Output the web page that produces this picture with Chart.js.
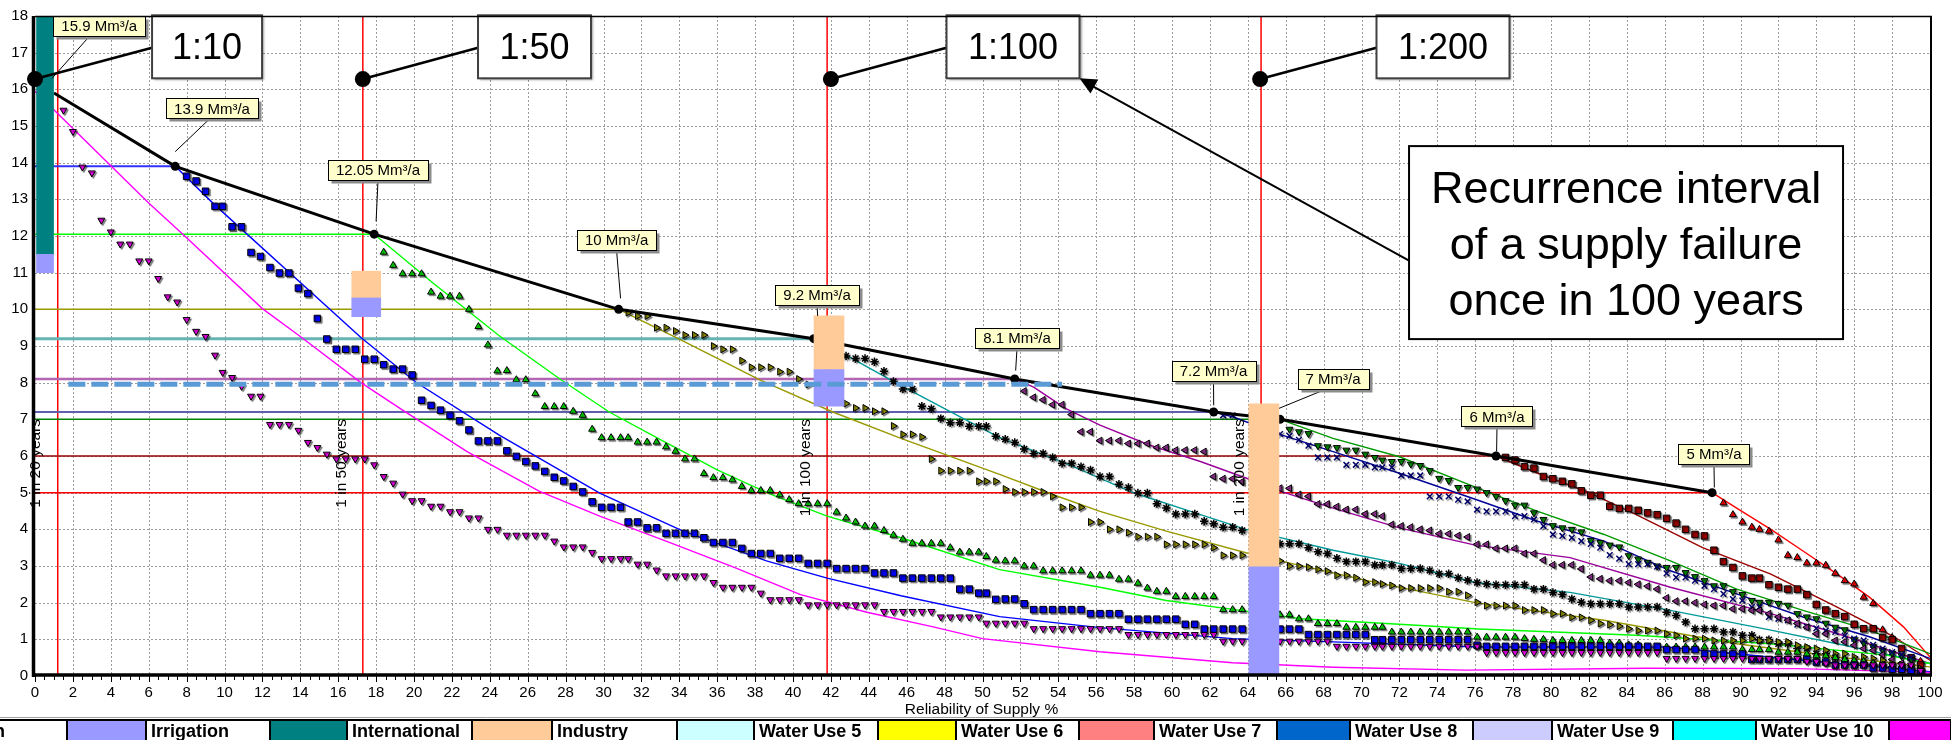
<!DOCTYPE html>
<html>
<head>
<meta charset="utf-8">
<title>Reliability of Supply</title>
<script src="https://cdn.jsdelivr.net/npm/chart.js@4.4.1/dist/chart.umd.min.js"></script>
<style>
  html, body { margin: 0; padding: 0; background: #fff; overflow: hidden; }
  canvas { display: block; }
</style>
</head>
<body>
<canvas id="supplyChart" width="1951" height="740"></canvas>
<script>
// ---------- data ----------

// envelope: firm yield at each assurance point (Mm³/a) against reliability %
const envelopeX = [1.0, 7.4, 17.9, 30.8, 41.1, 51.7, 62.2, 65.7, 77.1, 88.5];
const envelopeY = [15.9, 13.9, 12.05, 10, 9.2, 8.1, 7.2, 7, 6, 5];

// return period lines (reliability %) and their notes
const returnPeriodX = [1.2, 17.3, 41.8, 64.7];
const returnPeriodNotes = ['1 in 20 years', '1 in 50 years', '1 in 100 years', '1 in 200 years'];
const ratioNames = ['1:10', '1:50', '1:100', '1:200'];

// target draft (dashed line)
const targetDraft = 7.96;
const targetSpan = [1.76, 54.2];

// stacked requirement columns: centre % and [from, to] Mm³/a
const columnX = [0.53, 17.48, 41.9, 64.85];
const irrigationCols = [[11.0, 11.5], [9.8, 10.31], [7.36, 8.36], [0, 2.98]];
const internationalCols = [[11.5, 18], null, null, null];
const industryCols = [null, [10.31, 11.04], [8.36, 9.82], [2.98, 7.42]];

// legend row
const legendNames = ['Irrigation', 'International', 'Industry', 'Water Use 5', 'Water Use 6', 'Water Use 7', 'Water Use 8', 'Water Use 9', 'Water Use 10'];
const legendColors = ['#9999ff', '#008080', '#ffcc99', '#ccffff', '#ffff00', '#ff8080', '#0066cc', '#ccccff', '#00ffff', '#ff00ff'];

// simulated yields per draft level [reliability %, Mm³/a]
const markers159 = [[1.5,15.43],[2,14.85],[2.5,13.88],[3,13.72],[3.5,12.43],[4,12.11],[4.5,11.78],[5,11.78],[5.5,11.32],[6,11.32],[6.5,10.84],[7,10.34],[7.5,10.2],[8,9.72],[8.5,9.4],[9,9.26],[9.5,8.75],[9.9,8.28],[10.4,8.14],[10.9,7.9],[11.4,7.63],[11.9,7.63],[12.4,6.86],[12.9,6.86],[13.4,6.86],[13.9,6.7],[14.4,6.37],[14.9,6.23],[15.4,6.05],[15.9,5.92],[16.4,5.92],[16.9,5.92],[17.4,5.92],[17.9,5.76],[18.4,5.44],[18.9,5.26],[19.4,4.96],[19.9,4.78],[20.4,4.78],[20.9,4.63],[21.4,4.63],[21.9,4.48],[22.4,4.48],[22.9,4.31],[23.4,4.31],[23.9,4],[24.4,4],[24.9,3.84],[25.4,3.84],[25.9,3.84],[26.4,3.84],[26.9,3.84],[27.4,3.68],[27.9,3.52],[28.4,3.52],[28.9,3.52],[29.4,3.37],[29.9,3.2],[30.4,3.2],[30.9,3.2],[31.3,3.2],[31.8,3.05],[32.3,3.05],[32.8,2.89],[33.3,2.73],[33.8,2.73],[34.3,2.73],[34.8,2.73],[35.3,2.73],[35.8,2.55],[36.3,2.42],[36.8,2.42],[37.3,2.42],[37.8,2.42],[38.3,2.26],[38.8,2.08],[39.3,2.08],[39.8,2.08],[40.3,2.08],[40.8,1.94],[41.3,1.94],[41.8,1.94],[42.3,1.94],[42.8,1.94],[43.3,1.94],[43.8,1.94],[44.3,1.94],[44.8,1.76],[45.3,1.76],[45.8,1.76],[46.3,1.76],[46.8,1.76],[47.3,1.76],[47.8,1.61],[48.3,1.61],[48.8,1.61],[49.3,1.61],[49.8,1.61],[50.2,1.44],[50.7,1.44],[51.2,1.44],[51.7,1.44],[52.2,1.44],[52.7,1.29],[53.2,1.29],[53.7,1.29],[54.2,1.29],[54.7,1.29],[55.2,1.29],[55.7,1.29],[56.2,1.29],[56.7,1.29],[57.2,1.29],[57.7,1.13],[58.2,1.13],[58.7,1.13],[59.2,1.13],[59.7,1.13],[60.2,1.13],[60.7,1.13],[61.2,1.13],[61.7,1.13],[62.2,1.13],[62.7,0.95],[63.2,0.95],[63.7,0.95],[65.7,0.95],[66.2,0.95],[66.7,0.95],[67.2,0.95],[67.7,0.95],[68.2,0.95],[68.7,0.81],[69.2,0.81],[69.7,0.81],[70.2,0.81],[70.7,0.81],[71.1,0.81],[71.6,0.81],[72.1,0.81],[72.6,0.81],[73.1,0.81],[73.6,0.81],[74.1,0.81],[74.6,0.81],[75.1,0.81],[75.6,0.81],[76.1,0.81],[76.6,0.64],[77.1,0.64],[77.6,0.64],[78.1,0.64],[78.6,0.64],[79.1,0.64],[79.6,0.64],[80.1,0.64],[80.6,0.64],[81.1,0.64],[81.6,0.64],[82.1,0.64],[82.6,0.64],[83.1,0.64],[83.6,0.64],[84.1,0.64],[84.6,0.64],[85.1,0.64],[85.6,0.64],[86.1,0.48],[86.6,0.48],[87.1,0.48],[87.6,0.48],[88.1,0.48],[88.6,0.48],[89.1,0.48],[89.6,0.48],[90.1,0.48],[90.6,0.48],[91,0.48],[91.5,0.48],[92,0.48],[92.5,0.48],[93,0.48],[93.5,0.4],[94,0.4],[94.5,0.35],[95,0.3],[95.5,0.3],[96,0.3],[96.5,0.3],[97,0.3],[97.5,0.3],[98,0.3],[98.5,0.3],[99,0.3],[99.5,0.15]];
const markers139 = [[8,13.63],[8.5,13.5],[9,13.22],[9.5,12.81],[9.9,12.81],[10.4,12.25],[10.9,12.25],[11.4,11.55],[11.9,11.44],[12.4,11.14],[12.9,10.99],[13.4,10.99],[13.9,10.58],[14.4,10.43],[14.9,9.75],[15.4,9.19],[15.9,8.91],[16.4,8.91],[16.9,8.91],[17.4,8.64],[17.9,8.64],[18.4,8.49],[18.9,8.37],[19.4,8.37],[19.9,8.21],[20.4,7.52],[20.9,7.38],[21.4,7.25],[21.9,7.11],[22.4,6.96],[22.9,6.71],[23.4,6.41],[23.9,6.41],[24.4,6.41],[24.9,6.14],[25.4,5.99],[25.9,5.85],[26.4,5.73],[26.9,5.58],[27.4,5.42],[27.9,5.32],[28.4,5.17],[28.9,5.02],[29.4,4.75],[29.9,4.6],[30.4,4.6],[30.9,4.6],[31.3,4.2],[31.8,4.2],[32.3,4.04],[32.8,4.04],[33.3,3.89],[33.8,3.89],[34.3,3.89],[34.8,3.89],[35.3,3.77],[35.8,3.64],[36.3,3.64],[36.8,3.64],[37.3,3.48],[37.8,3.34],[38.3,3.34],[38.8,3.34],[39.3,3.21],[39.8,3.21],[40.3,3.21],[40.8,3.07],[41.3,3.07],[41.8,3.07],[42.3,2.93],[42.8,2.93],[43.3,2.93],[43.8,2.93],[44.3,2.81],[44.8,2.81],[45.3,2.81],[45.8,2.67],[46.3,2.67],[46.8,2.67],[47.3,2.67],[47.8,2.67],[48.3,2.67],[48.8,2.37],[49.3,2.37],[49.8,2.26],[50.2,2.26],[50.7,2.09],[51.2,2.1],[51.7,2.1],[52.2,1.97],[52.7,1.81],[53.2,1.81],[53.7,1.81],[54.2,1.81],[54.7,1.81],[55.2,1.81],[55.7,1.7],[56.2,1.7],[56.7,1.7],[57.2,1.7],[57.7,1.55],[58.2,1.55],[58.7,1.55],[59.2,1.55],[59.7,1.55],[60.2,1.55],[60.7,1.41],[61.2,1.41],[61.7,1.28],[62.2,1.28],[62.7,1.28],[63.2,1.28],[63.7,1.28],[65.7,1.28],[66.2,1.28],[66.7,1.28],[67.2,1.13],[67.7,1.13],[68.2,1.13],[68.7,1.13],[69.2,1.13],[69.7,1.13],[70.2,1.13],[70.7,0.99],[71.1,0.99],[71.6,0.99],[72.1,0.99],[72.6,0.99],[73.1,0.99],[73.6,0.99],[74.1,0.99],[74.6,0.99],[75.1,0.99],[75.6,0.99],[76.1,0.84],[76.6,0.81],[77.1,0.81],[77.6,0.81],[78.1,0.81],[78.6,0.81],[79.1,0.81],[79.6,0.81],[80.1,0.81],[80.6,0.81],[81.1,0.81],[81.6,0.81],[82.1,0.81],[82.6,0.81],[83.1,0.81],[83.6,0.81],[84.1,0.81],[84.6,0.81],[85.1,0.81],[85.6,0.81],[86.1,0.72],[86.6,0.72],[87.1,0.72],[87.6,0.72],[88.1,0.6],[88.6,0.6],[89.1,0.6],[89.6,0.6],[90.1,0.6],[90.6,0.45],[91,0.45],[91.5,0.45],[92,0.45],[92.5,0.45],[93,0.45],[93.5,0.45],[94,0.38],[94.5,0.38],[95,0.3],[95.5,0.3],[96,0.3],[96.5,0.3],[97,0.22],[97.5,0.22],[98,0.18],[98.5,0.18],[99,0.15],[99.5,0.12]];
const markers1205 = [[18.4,11.56],[18.9,11.2],[19.4,10.97],[19.9,10.97],[20.4,10.97],[20.9,10.47],[21.4,10.36],[21.9,10.36],[22.4,10.36],[22.9,10],[23.4,9.53],[23.9,9.03],[24.4,8.32],[24.9,8.33],[25.4,8.08],[25.9,8.08],[26.4,7.7],[26.9,7.35],[27.4,7.35],[27.9,7.35],[28.4,7.22],[28.9,7.11],[29.4,6.73],[29.9,6.5],[30.4,6.5],[30.9,6.5],[31.3,6.5],[31.8,6.38],[32.3,6.38],[32.8,6.38],[33.3,6.25],[33.8,6.13],[34.3,5.92],[34.8,5.92],[35.3,5.52],[35.8,5.41],[36.3,5.41],[36.8,5.35],[37.3,5.17],[37.8,5.06],[38.3,5.06],[38.8,5.06],[39.3,4.94],[39.8,4.81],[40.3,4.7],[40.8,4.7],[41.3,4.7],[41.8,4.7],[42.3,4.47],[42.8,4.31],[43.3,4.2],[43.8,4.09],[44.3,4.09],[44.8,3.97],[45.3,3.84],[45.8,3.73],[46.3,3.62],[46.8,3.62],[47.3,3.62],[47.8,3.62],[48.3,3.5],[48.8,3.38],[49.3,3.38],[49.8,3.38],[50.2,3.26],[50.7,3.16],[51.2,3.14],[51.7,3.14],[52.2,3],[52.7,3],[53.2,2.87],[53.7,2.87],[54.2,2.87],[54.7,2.87],[55.2,2.87],[55.7,2.75],[56.2,2.75],[56.7,2.75],[57.2,2.64],[57.7,2.64],[58.2,2.53],[58.7,2.4],[59.2,2.31],[59.7,2.31],[60.2,2.17],[60.7,2.17],[61.2,2.17],[61.7,2.17],[62.2,2.17],[62.7,1.81],[63.2,1.81],[63.7,1.81],[65.7,1.67],[66.2,1.67],[66.7,1.56],[67.2,1.56],[67.7,1.43],[68.2,1.43],[68.7,1.43],[69.2,1.33],[69.7,1.33],[70.2,1.33],[70.7,1.33],[71.1,1.33],[71.6,1.2],[72.1,1.2],[72.6,1.2],[73.1,1.2],[73.6,1.2],[74.1,1.2],[74.6,1.2],[75.1,1.2],[75.6,1.2],[76.1,1.06],[76.6,1.06],[77.1,1.06],[77.6,1.06],[78.1,1.06],[78.6,1.02],[79.1,1],[79.6,1],[80.1,0.97],[80.6,0.97],[81.1,0.97],[81.6,0.97],[82.1,0.97],[82.6,0.97],[83.1,0.9],[83.6,0.9],[84.1,0.85],[84.6,0.85],[85.1,0.79],[85.6,0.79],[86.1,0.79],[86.6,0.79],[87.1,0.79],[87.6,0.79],[88.1,0.79],[88.6,0.79],[89.1,0.79],[89.6,0.79],[90.1,0.72],[90.6,0.72],[91,0.72],[91.5,0.72],[92,0.65],[92.5,0.65],[93,0.65],[93.5,0.6],[94,0.55],[94.5,0.55],[95,0.5],[95.5,0.45],[96,0.42],[96.5,0.4],[97,0.35],[97.5,0.3],[98,0.28],[98.5,0.25],[99,0.2],[99.5,0.15]];
const markers10 = [[31.3,9.91],[31.8,9.82],[32.3,9.82],[32.8,9.5],[33.3,9.5],[33.8,9.41],[34.3,9.3],[34.8,9.3],[35.3,9.3],[35.8,9],[36.3,8.91],[36.8,8.91],[37.3,8.6],[37.8,8.42],[38.3,8.42],[38.8,8.42],[39.3,8.3],[39.8,8.3],[40.3,8.1],[40.8,7.95],[42.8,7.43],[43.3,7.31],[43.8,7.31],[44.3,7.22],[44.8,7.22],[45.3,6.82],[45.8,6.59],[46.3,6.59],[46.8,6.52],[47.3,5.92],[47.8,5.6],[48.3,5.6],[48.8,5.6],[49.3,5.6],[49.8,5.31],[50.2,5.31],[50.7,5.31],[51.2,5.1],[51.7,5.02],[52.2,5.02],[52.7,5.02],[53.2,5.02],[53.7,4.9],[54.2,4.6],[54.7,4.6],[55.2,4.6],[55.7,4.2],[56.2,4.2],[56.7,4],[57.2,4],[57.7,3.91],[58.2,3.8],[58.7,3.8],[59.2,3.8],[59.7,3.59],[60.2,3.59],[60.7,3.59],[61.2,3.59],[61.7,3.59],[62.2,3.5],[62.7,3.29],[63.2,3.29],[63.7,3.29],[65.7,3.14],[66.2,3],[66.7,3],[67.2,2.97],[67.7,2.91],[68.2,2.86],[68.7,2.75],[69.2,2.75],[69.7,2.68],[70.2,2.56],[70.7,2.56],[71.1,2.51],[71.6,2.47],[72.1,2.4],[72.6,2.4],[73.1,2.4],[73.6,2.4],[74.1,2.4],[74.6,2.3],[75.1,2.3],[75.6,2.2],[76.1,2.01],[76.6,1.92],[77.1,1.92],[77.6,1.92],[78.1,1.92],[78.6,1.8],[79.1,1.8],[79.6,1.8],[80.1,1.7],[80.6,1.7],[81.1,1.6],[81.6,1.6],[82.1,1.52],[82.6,1.43],[83.1,1.4],[83.6,1.36],[84.1,1.29],[84.6,1.24],[85.1,1.24],[85.6,1.24],[86.1,1.15],[86.6,1.11],[87.1,1.02],[87.6,1.02],[88.1,1.02],[88.6,0.97],[89.1,0.97],[89.6,0.97],[90.1,0.97],[90.6,1.02],[91,0.97],[91.5,0.97],[92,0.93],[92.5,0.93],[93,0.84],[93.5,0.79],[94,0.75],[94.5,0.7],[95,0.61],[95.5,0.61],[96,0.52],[96.5,0.52],[97,0.48],[97.5,0.43],[98,0.34],[98.5,0.3],[99,0.25],[99.5,0.2]];
const markers92 = [[42.8,8.73],[43.3,8.66],[43.8,8.66],[44.3,8.57],[44.8,8.31],[45.3,8.03],[45.8,7.83],[46.3,7.83],[46.8,7.36],[47.3,7.29],[47.8,7.02],[48.3,6.91],[48.8,6.91],[49.3,6.81],[49.8,6.81],[50.2,6.81],[50.7,6.54],[51.2,6.46],[51.7,6.37],[52.2,6.19],[52.7,6.07],[53.2,6.07],[53.7,5.96],[54.2,5.8],[54.7,5.8],[55.2,5.71],[55.7,5.62],[56.2,5.44],[56.7,5.44],[57.2,5.23],[57.7,5.14],[58.2,4.99],[58.7,4.99],[59.2,4.7],[59.7,4.58],[60.2,4.42],[60.7,4.42],[61.2,4.42],[61.7,4.22],[62.2,4.15],[62.7,4.06],[63.2,4.06],[63.7,3.97],[65.7,3.61],[66.2,3.61],[66.7,3.61],[67.2,3.5],[67.7,3.39],[68.2,3.34],[68.7,3.21],[69.2,3.12],[69.7,3.12],[70.2,3.12],[70.7,3.03],[71.1,3.03],[71.6,3.03],[72.1,2.93],[72.6,2.93],[73.1,2.93],[73.6,2.88],[74.1,2.79],[74.6,2.79],[75.1,2.68],[75.6,2.61],[76.1,2.55],[76.6,2.51],[77.1,2.49],[77.6,2.49],[78.1,2.49],[78.6,2.49],[79.1,2.37],[79.6,2.37],[80.1,2.28],[80.6,2.22],[81.1,2.1],[81.6,2.01],[82.1,1.97],[82.6,1.97],[83.1,1.97],[83.6,1.97],[84.1,1.88],[84.6,1.88],[85.1,1.88],[85.6,1.88],[86.1,1.74],[86.6,1.65],[87.1,1.47],[87.6,1.29],[88.1,1.29],[88.6,1.29],[89.1,1.2],[89.6,1.2],[90.1,1.11],[90.6,1.11],[91,0.99],[91.5,0.99],[92,0.88],[92.5,0.88],[93,0.75],[93.5,0.75],[94,0.61],[94.5,0.61],[95,0.5],[95.5,0.42],[96,0.35],[96.5,0.35],[97,0.3],[97.5,0.3],[98,0.25],[98.5,0.2],[99,0.15]];
const markers81 = [[52.2,7.77],[52.7,7.6],[53.2,7.53],[53.7,7.4],[54.2,7.4],[54.7,7.13],[55.2,6.66],[55.7,6.66],[56.2,6.42],[56.7,6.42],[57.2,6.42],[57.7,6.34],[58.2,6.34],[58.7,6.34],[59.2,6.23],[59.7,6.23],[60.2,6.16],[60.7,6.16],[61.2,6.16],[61.7,6.12],[62.2,5.44],[62.7,5.38],[63.2,5.38],[63.7,5.3],[65.7,5.12],[66.2,5.12],[66.7,4.95],[67.2,4.9],[67.7,4.69],[68.2,4.69],[68.7,4.62],[69.2,4.54],[69.7,4.54],[70.2,4.42],[70.7,4.42],[71.1,4.36],[71.6,4.13],[72.1,4.09],[72.6,4.06],[73.1,4],[73.6,3.97],[74.1,3.88],[74.6,3.88],[75.1,3.83],[75.6,3.79],[76.1,3.59],[76.6,3.59],[77.1,3.48],[77.6,3.48],[78.1,3.48],[78.6,3.34],[79.1,3.34],[79.6,3.16],[80.1,3.03],[80.6,3.03],[81.1,3.03],[81.6,2.92],[82.1,2.7],[82.6,2.65],[83.1,2.6],[83.6,2.6],[84.1,2.55],[84.6,2.5],[85.1,2.45],[85.6,2.37],[86.1,2.13],[86.6,2.04],[87.1,2.04],[87.6,2],[88.1,1.95],[88.6,1.92],[89.1,1.92],[89.6,1.83],[90.1,1.83],[90.6,1.79],[91,1.79],[91.5,1.7],[92,1.61],[92.5,1.52],[93,1.43],[93.5,1.33],[94,1.15],[94.5,1.15],[95,0.97],[95.5,0.93],[96,0.84],[96.5,0.75],[97,0.7],[97.5,0.58],[98,0.45],[98.5,0.35],[99,0.28]];
const markers72 = [[62.7,7.11],[63.2,7.11],[65.7,6.6],[66.2,6.55],[66.7,6.44],[67.2,6.28],[67.7,5.96],[68.2,5.96],[68.7,5.96],[69.2,5.76],[69.7,5.76],[70.2,5.76],[70.7,5.69],[71.1,5.69],[71.6,5.69],[72.1,5.47],[72.6,5.47],[73.1,5.47],[73.6,4.9],[74.1,4.9],[74.6,4.9],[75.1,4.81],[75.6,4.76],[76.1,4.54],[76.6,4.49],[77.1,4.49],[77.6,4.49],[78.1,4.36],[78.6,4.36],[79.1,4.27],[79.6,4.09],[80.1,3.86],[80.6,3.82],[81.1,3.77],[81.6,3.68],[82.1,3.6],[82.6,3.5],[83.1,3.3],[83.6,3.2],[84.1,3.05],[84.6,3.05],[85.1,3.05],[85.6,2.98],[86.1,2.8],[86.6,2.69],[87.1,2.69],[87.6,2.6],[88.1,2.46],[88.6,2.37],[89.1,2.24],[89.6,2.1],[90.1,2.06],[90.6,1.88],[91,1.88],[91.5,1.61],[92,1.56],[92.5,1.52],[93,1.4],[93.5,1.35],[94,1.3],[94.5,1.24],[95,1.2],[95.5,1.1],[96,1.02],[96.5,0.97],[97,0.85],[97.5,0.75],[98,0.65],[98.5,0.58],[99,0.5]];
const markers7 = [[66.2,6.73],[66.7,6.66],[67.2,6.61],[67.7,6.28],[68.2,6.25],[68.7,6.23],[69.2,6.16],[69.7,6.16],[70.2,6.05],[70.7,5.96],[71.1,5.89],[71.6,5.85],[72.1,5.85],[72.6,5.78],[73.1,5.74],[73.6,5.6],[74.1,5.39],[74.6,5.33],[75.1,5.14],[75.6,5.14],[76.1,5.1],[76.6,5],[77.1,4.9],[77.6,4.78],[78.1,4.66],[78.6,4.66],[79.1,4.45],[79.6,4.27],[80.1,4.1],[80.6,4.04],[81.1,4],[81.6,3.93],[82.1,3.7],[82.6,3.64],[83.1,3.57],[83.6,3.52],[84.1,3.28],[84.6,3.19],[85.1,3.1],[85.6,3],[86.1,2.96],[86.6,2.96],[87.1,2.82],[87.6,2.71],[88.1,2.6],[88.6,2.46],[89.1,2.46],[89.6,2.3],[90.1,2.22],[90.6,2.06],[91,2.01],[91.5,2.01],[92,1.98],[92.5,1.93],[93,1.7],[93.5,1.61],[94,1.56],[94.5,1.44],[95,1.33],[95.5,1.26],[96,0.99],[96.5,0.9],[97,0.8],[97.5,0.7],[98,0.62],[98.5,0.55],[99,0.45]];
const markers6 = [[77.6,5.96],[78.1,5.89],[78.6,5.71],[79.1,5.67],[79.6,5.44],[80.1,5.38],[80.6,5.31],[81.1,5.24],[81.6,5.05],[82.1,4.93],[82.6,4.93],[83.1,4.63],[83.6,4.57],[84.1,4.57],[84.6,4.52],[85.1,4.45],[85.6,4.4],[86.1,4.3],[86.6,4.17],[87.1,4],[87.6,3.86],[88.1,3.82],[88.6,3.43],[89.1,3.12],[89.6,2.96],[90.1,2.73],[90.6,2.67],[91,2.67],[91.5,2.49],[92,2.42],[92.5,2.37],[93,2.37],[93.5,2.22],[94,1.95],[94.5,1.8],[95,1.7],[95.5,1.62],[96,1.41],[96.5,1.29],[97,1.29],[97.5,1.05],[98,0.99],[98.5,0.75],[99,0.5],[99.5,0.3]];
const markers5 = [[89.1,4.72],[89.6,4.4],[90.1,4.2],[90.6,4.06],[91,4],[91.5,3.95],[92,3.71],[92.5,3.29],[93,3.23],[93.5,3.08],[94,3.08],[94.5,3.02],[95,2.8],[95.5,2.6],[96,2.51],[96.5,2.15],[97,1.98],[97.5,1.26],[98,1.05],[99.5,0.4]];

// fitted curves for each draft level
const fit159 = [[0,15.95],[6,12.9],[7.9,12],[12,10.02],[14,9.26],[17.2,8],[19.4,7.25],[22.8,6.12],[26.6,5.04],[29.8,4.36],[33.3,3.68],[36.9,2.96],[40.4,2.22],[43.9,1.74],[47.4,1.34],[50,1.02],[56.2,0.66],[63.2,0.36],[68.5,0.24],[75.5,0.16],[85,0.21],[93,0.2],[100,0.1]];
const fit139 = [[7.4,13.9],[9.4,12.89],[17.2,9.23],[20.1,8.01],[24.5,6.57],[29.8,4.99],[34.2,3.95],[38.6,3.14],[41.8,2.67],[45.7,2.19],[50.9,1.62],[56.2,1.32],[63.2,1.02],[68.5,0.93],[76.2,0.79],[86.1,0.79],[93.3,0.43],[100,0.12]];
const fit1205 = [[17.9,12.05],[21,10.72],[24.5,9.28],[27.7,8.1],[30.3,7.2],[33.2,6.39],[34.2,6.12],[36,5.62],[37.7,5.22],[39.1,4.9],[41.8,4.36],[45.7,3.77],[50.9,2.9],[56.2,2.42],[59.7,2.06],[63.9,1.77],[66.8,1.56],[72,1.41],[76.2,1.28],[84.5,1.11],[91.6,0.88],[97.7,0.57],[100,0.34]];
const fit10 = [[30.8,10],[34,9.19],[38.3,8.06],[42.1,7.2],[45.7,6.48],[50.9,5.5],[53.7,4.95],[56.2,4.49],[59.7,3.95],[63.9,3.36],[65.7,3.14],[70.3,2.6],[76,2],[82.8,1.52],[89.8,0.88],[95.1,0.52],[100,0.25]];
const fit92 = [[41.1,9.2],[42.7,8.78],[45.7,7.92],[50.9,6.5],[54.4,5.8],[58,4.99],[61.5,4.4],[63.9,4],[68.5,3.43],[72,3.07],[76,2.55],[81,2.28],[86.3,1.79],[91.6,1.25],[95.1,0.88],[100,0.34]];
const fit81 = [[51.7,8.1],[52.7,7.88],[54.4,7.29],[56.2,6.84],[58.8,6.3],[61.5,5.85],[63.9,5.4],[65.7,5.04],[68.5,4.58],[72,4.04],[76,3.57],[81,3.23],[86.3,2.42],[91.6,1.7],[95.1,1.16],[100,0.34]];
const fit72 = [[62.2,7.2],[63.2,7.07],[65.7,6.59],[68.5,6.12],[72,5.53],[76,4.82],[79.3,4.22],[82.8,3.68],[86.3,2.87],[89.8,2.24],[93.3,1.61],[96.8,1.07],[100,0.48]];
const fit7 = [[65.7,7],[68.5,6.48],[72,5.98],[76,5.15],[79.3,4.49],[82.8,3.86],[86.3,3.14],[89.8,2.37],[93.3,1.79],[96.8,1.25],[100,0.61]];
const fit6 = [[77.1,6],[79.3,5.53],[81.9,5.03],[84.5,4.4],[88,3.5],[91.6,2.78],[95.1,1.88],[98.1,1.07],[100,0.43]];
const fit5 = [[88.5,5],[89.8,4.58],[91.6,4],[93.3,3.41],[95.1,2.78],[96.8,2.15],[98.6,1.34],[100,0.52]];

// ---------- styling ----------
const FONT = '"Liberation Sans", Arial, sans-serif';
Chart.defaults.font.family = FONT;
Chart.defaults.color = '#000';

const curves = [
  { pts: markers159, fit: fit159, line: '#ff00ff', fill: '#ff00ff', edge: '#000', shape: 'triangle', rot: 180, r: 4 },
  { pts: markers139, fit: fit139, line: '#0000ff', fill: '#0000ff', edge: '#000', shape: 'rect', rot: 0, r: 4.6 },
  { pts: markers1205, fit: fit1205, line: '#00ff00', fill: '#00dd00', edge: '#000', shape: 'triangle', rot: 0, r: 4 },
  { pts: markers10, fit: fit10, line: '#999900', fill: '#999900', edge: '#000', shape: 'triangle', rot: 90, r: 4 },
  { pts: markers92, fit: fit92, line: '#009999', fill: '#000', edge: '#000', shape: 'star', rot: 0, r: 4.2 },
  { pts: markers81, fit: fit81, line: '#990099', fill: '#993399', edge: '#000', shape: 'triangle', rot: -90, r: 4 },
  { pts: markers72, fit: fit72, line: '#000099', fill: '#000', edge: '#000066', shape: 'crossRot', rot: 0, r: 4 },
  { pts: markers7, fit: fit7, line: '#009900', fill: '#009900', edge: '#000', shape: 'triangle', rot: 180, r: 4 },
  { pts: markers6, fit: fit6, line: '#990000', fill: '#990000', edge: '#000', shape: 'rect', rot: 0, r: 4.6 },
  { pts: markers5, fit: fit5, line: '#ff0000', fill: '#ff0000', edge: '#000', shape: 'triangle', rot: 0, r: 4 }
];
// horizontal lead-in lines from the axis to each envelope point (index 1..9)
const levelStyles = [
  null,
  { color: '#3333ff', width: 2 },
  { color: '#00ff00', width: 1.5 },
  { color: '#999900', width: 1.5 },
  { color: '#66b3b3', width: 3 },
  { color: '#b366b3', width: 2.5 },
  { color: '#6060b0', width: 2 },
  { color: '#008000', width: 1.5 },
  { color: '#990000', width: 1.5 },
  { color: '#ff0000', width: 1.5 }
];
const columnWidths = [17, 29, 30, 30];

const toXY = arr => arr.map(p => ({ x: p[0], y: p[1] }));

// ---------- datasets ----------
const datasets = [];

datasets.push({
  type: 'line', label: 'Target draft',
  data: [{ x: targetSpan[0], y: targetDraft }, { x: targetSpan[1], y: targetDraft }],
  borderColor: '#5b9bd5', borderWidth: 5, borderDash: [17, 6], borderCapStyle: 'butt',
  pointRadius: 0, order: 0
});

[['Irrigation', irrigationCols, '#9999ff'], ['International', internationalCols, '#008080'], ['Industry', industryCols, '#ffcc99']]
  .forEach(([name, ranges, color]) => {
    ranges.forEach((r, i) => {
      if (!r) return;
      datasets.push({
        type: 'bar', label: name,
        data: [{ x: columnX[i], y: r }],
        backgroundColor: color, borderWidth: 0, grouped: false,
        barThickness: columnWidths[i], order: 1
      });
    });
  });

datasets.push({
  type: 'line', label: 'Envelope',
  data: envelopeX.map((x, i) => ({ x, y: envelopeY[i] })),
  borderColor: '#000', borderWidth: 3,
  pointRadius: envelopeX.map((x, i) => i === 0 ? 0 : 4.5),
  pointBackgroundColor: '#000', pointBorderWidth: 0, order: 2
});

curves.forEach((c, i) => {
  datasets.push({
    type: 'scatter', label: 'Yield ' + envelopeY[i],
    data: toXY(c.pts),
    pointStyle: c.shape, pointRotation: c.rot, pointRadius: c.r,
    pointBackgroundColor: c.fill, pointBorderColor: c.edge,
    pointBorderWidth: c.shape === 'star' || c.shape === 'crossRot' ? 1.5 : 1,
    order: 3
  });
  datasets.push({
    type: 'line', label: 'Fit ' + envelopeY[i],
    data: toXY(c.fit),
    borderColor: c.line, borderWidth: 1.4, pointRadius: 0, tension: 0, order: 4
  });
});

envelopeX.forEach((x, i) => {
  if (!levelStyles[i]) return;
  datasets.push({
    type: 'line', label: 'Level ' + envelopeY[i],
    data: [{ x: 0, y: envelopeY[i] }, { x, y: envelopeY[i] }],
    borderColor: levelStyles[i].color, borderWidth: levelStyles[i].width,
    pointRadius: 0, order: 5
  });
});

returnPeriodX.forEach(x => {
  datasets.push({
    type: 'line', label: 'Return period',
    data: [{ x, y: 0 }, { x, y: 18 }],
    borderColor: '#ff0000', borderWidth: 1.5, pointRadius: 0, order: 6
  });
});

// ---------- annotation layout ----------
const noteTopY = 7.01;
const noteX = [0.45, 16.62, 41.06, 64.0];

const ratioDotX = [0, 17.3, 42.0, 64.65];
const ratioDotY = 16.28;
const ratioBoxX = [9.08, 26.36, 51.61, 74.3];
const ratioBoxY = 17.16;
const ratioBoxW = [110, 113, 133, 133];
const ratioBoxH = 63;

const recurrenceNote = { cx: 83.96, cy: 11.82, w: 434, h: 193, arrowY: 11.33,
  lines: ['Recurrence interval', 'of a supply failure', 'once in 100 years'] };

const yieldTags = [
  { cx: 3.39, cy: 17.72, ex: 0.9, ey: 16.3, sx: -10 },
  { cx: 9.34, cy: 15.48, ex: 7.4, ey: 14.3, sx: -2 },
  { cx: 18.1, cy: 13.8, ex: 18.0, ey: 12.4, sx: 0 },
  { cx: 30.69, cy: 11.9, ex: 30.9, ey: 10.3, sx: 0 },
  { cx: 41.27, cy: 10.4, ex: 41.3, ey: 9.82, sx: 0 },
  { cx: 51.82, cy: 9.21, ex: 51.75, ey: 8.33, sx: 0 },
  { cx: 62.19, cy: 8.31, ex: 62.2, ey: 7.38, sx: 0 },
  { cx: 68.5, cy: 8.11, ex: 65.65, ey: 7.3, sx: -8 },
  { cx: 77.15, cy: 7.08, ex: 77.13, ey: 6.12, sx: 0 },
  { cx: 88.6, cy: 6.05, ex: 88.62, ey: 5.14, sx: 0 }
];

// ---------- drawing helpers ----------
function line(ctx, x1, y1, x2, y2) {
  ctx.beginPath(); ctx.moveTo(x1, y1); ctx.lineTo(x2, y2); ctx.stroke();
}

function drawGrid(chart) {
  const { ctx, chartArea: a, scales: { x, y } } = chart;
  ctx.save();
  ctx.strokeStyle = '#9c9c9c';
  ctx.lineWidth = 1;
  ctx.setLineDash([2, 2]);
  ctx.beginPath();
  x.ticks.forEach(t => {
    if (t.value <= x.min || t.value >= x.max) return;
    const p = Math.round(x.getPixelForValue(t.value)) + 0.5;
    ctx.moveTo(p, a.top); ctx.lineTo(p, a.bottom);
  });
  y.ticks.forEach(t => {
    if (t.value <= y.min || t.value >= y.max) return;
    const p = Math.round(y.getPixelForValue(t.value)) + 0.5;
    ctx.moveTo(a.left, p); ctx.lineTo(a.right, p);
  });
  ctx.stroke();
  ctx.restore();
}

function drawAxes(chart) {
  const { ctx, chartArea: a, scales: { x } } = chart;
  ctx.save();
  ctx.strokeStyle = '#000';
  ctx.lineWidth = 1;
  ctx.beginPath();
  for (let v = 0; v <= 100; v += 0.5) {
    const p = Math.round(x.getPixelForValue(v)) + 0.5;
    ctx.moveTo(p, a.bottom); ctx.lineTo(p, a.bottom + (v % 2 === 0 ? 6 : 4));
  }
  ctx.stroke();
  ctx.lineWidth = 1.5;
  line(ctx, a.left, a.top + 0.5, a.right + 2, a.top + 0.5);
  ctx.lineWidth = 2;
  line(ctx, a.right + 1, a.top, a.right + 1, a.bottom);
  ctx.lineWidth = 3.5;
  line(ctx, a.left - 1.5, a.top, a.left - 1.5, a.bottom + 1);
  line(ctx, a.left - 3, a.bottom - 1, a.right + 2, a.bottom - 1);
  ctx.restore();
}

function drawNotes(chart) {
  const { ctx, scales: { x, y } } = chart;
  ctx.save();
  ctx.fillStyle = '#000';
  ctx.font = '15.5px ' + FONT;
  ctx.textAlign = 'right';
  ctx.textBaseline = 'bottom';
  returnPeriodNotes.forEach((t, i) => {
    ctx.save();
    ctx.translate(x.getPixelForValue(noteX[i]), y.getPixelForValue(noteTopY));
    ctx.rotate(-Math.PI / 2);
    ctx.fillText(t, 0, 0);
    ctx.restore();
  });
  ctx.restore();
}

function ratioBoxRect(chart, i) {
  const { x, y } = chart.scales;
  const cx = x.getPixelForValue(ratioBoxX[i]), cy = y.getPixelForValue(ratioBoxY);
  return { left: cx - ratioBoxW[i] / 2, top: cy - ratioBoxH / 2, w: ratioBoxW[i], h: ratioBoxH, cx, cy };
}

function drawRatioBoxes(chart) {
  const { ctx, scales: { x, y } } = chart;
  ctx.save();
  ratioNames.forEach((name, i) => {
    const b = ratioBoxRect(chart, i);
    const dx = x.getPixelForValue(ratioDotX[i]), dy = y.getPixelForValue(ratioDotY);
    ctx.strokeStyle = '#000'; ctx.lineWidth = 2.5;
    line(ctx, dx, dy, b.left, b.cy + 1);
    ctx.fillStyle = '#000';
    ctx.beginPath(); ctx.arc(dx, dy, 8, 0, Math.PI * 2); ctx.fill();
    ctx.save();
    ctx.shadowColor = 'rgba(0,0,0,0.35)'; ctx.shadowOffsetX = 2; ctx.shadowOffsetY = 2; ctx.shadowBlur = 2;
    ctx.fillStyle = '#fff';
    ctx.fillRect(b.left, b.top, b.w, b.h);
    ctx.restore();
    ctx.strokeStyle = '#404040'; ctx.lineWidth = 2;
    ctx.strokeRect(b.left, b.top, b.w, b.h);
    ctx.fillStyle = '#000';
    ctx.font = '36px ' + FONT;
    ctx.textAlign = 'center'; ctx.textBaseline = 'middle';
    ctx.fillText(name, b.cx, b.cy + 2);
  });
  ctx.restore();
}

function drawRecurrence(chart) {
  const { ctx, scales: { x, y } } = chart;
  const n = recurrenceNote;
  const cx = x.getPixelForValue(n.cx), cy = y.getPixelForValue(n.cy);
  const left = cx - n.w / 2, top = cy - n.h / 2;
  ctx.save();
  // arrow to the 1:100 box
  const target = ratioBoxRect(chart, 2);
  const tx = target.left + target.w, ty = target.top + target.h;
  const sx0 = left, sy0 = y.getPixelForValue(n.arrowY);
  ctx.strokeStyle = '#000'; ctx.lineWidth = 2;
  line(ctx, sx0, sy0, tx + 8, ty + 5);
  const ang = Math.atan2(ty - sy0, tx - sx0);
  ctx.fillStyle = '#000';
  ctx.beginPath();
  ctx.moveTo(tx, ty);
  ctx.lineTo(tx - 17 * Math.cos(ang) + 8 * Math.sin(ang), ty - 17 * Math.sin(ang) - 8 * Math.cos(ang));
  ctx.lineTo(tx - 17 * Math.cos(ang) - 8 * Math.sin(ang), ty - 17 * Math.sin(ang) + 8 * Math.cos(ang));
  ctx.closePath(); ctx.fill();
  // box
  ctx.fillStyle = '#fff';
  ctx.fillRect(left, top, n.w, n.h);
  ctx.lineWidth = 2; ctx.strokeStyle = '#000';
  ctx.strokeRect(left, top, n.w, n.h);
  ctx.fillStyle = '#000';
  ctx.font = '45px ' + FONT;
  ctx.textAlign = 'center'; ctx.textBaseline = 'middle';
  n.lines.forEach((t, i) => ctx.fillText(t, cx, cy + 4 + (i - 1) * 56));
  ctx.restore();
}

function drawYieldTags(chart) {
  const { ctx, scales: { x, y } } = chart;
  ctx.save();
  ctx.font = '15px ' + FONT;
  yieldTags.forEach((t, i) => {
    const text = envelopeY[i] + ' Mm³/a';
    const w = Math.round(ctx.measureText(text).width + 16), h = 20;
    const cx = x.getPixelForValue(t.cx), cy = y.getPixelForValue(t.cy);
    const left = Math.round(cx - w / 2) + 0.5, top = Math.round(cy - h / 2) + 0.5;
    ctx.strokeStyle = '#000'; ctx.lineWidth = 1;
    line(ctx, cx + t.sx, top + h, x.getPixelForValue(t.ex), y.getPixelForValue(t.ey));
    ctx.fillStyle = '#8c8c8c';
    ctx.fillRect(left + 3, top + 3, w, h);
    ctx.fillStyle = '#ffffcc';
    ctx.fillRect(left, top, w, h);
    ctx.strokeRect(left, top, w, h);
    ctx.fillStyle = '#000';
    ctx.textAlign = 'center'; ctx.textBaseline = 'middle';
    ctx.fillText(text, cx, cy + 1);
  });
  ctx.restore();
}

function drawLegendRow(chart) {
  const { ctx } = chart;
  const top = 720, bottom = 746, base = 737;
  const boxW = [79, 77, 80, 77, 78, 75, 73, 79, 83, 62];
  const nameW = [124, 125, 125, 124, 123, 123, 123, 121, 133];
  ctx.save();
  ctx.strokeStyle = '#a0a0a0'; ctx.lineWidth = 1;
  line(ctx, 0, 717.5, chart.width, 717.5);
  ctx.font = 'bold 18px ' + FONT;
  ctx.textBaseline = 'alphabetic';
  ctx.fillStyle = '#000'; ctx.textAlign = 'right';
  ctx.fillText('n', 5, base);
  ctx.textAlign = 'left';
  const edges = [67];
  let cx = 67;
  legendColors.forEach((c, i) => {
    ctx.fillStyle = c;
    ctx.fillRect(cx, top, boxW[i], bottom - top);
    cx += boxW[i];
    edges.push(cx);
    if (i < legendNames.length) {
      ctx.fillStyle = '#000';
      ctx.fillText(legendNames[i], cx + 5, base);
      cx += nameW[i];
      edges.push(cx);
    }
  });
  ctx.strokeStyle = '#000'; ctx.lineWidth = 2;
  line(ctx, 0, top, chart.width, top);
  edges.forEach(e => line(ctx, e, top, e, bottom));
  ctx.restore();
}

function drawAxisTitle(chart) {
  const { ctx, chartArea: a } = chart;
  ctx.save();
  ctx.fillStyle = '#000';
  ctx.font = '15.5px ' + FONT;
  ctx.textAlign = 'center'; ctx.textBaseline = 'middle';
  ctx.fillText('Reliability of Supply %', (a.left + a.right) / 2 - 1, 710);
  ctx.restore();
}

const overlay = {
  id: 'overlay',
  beforeDatasetsDraw(chart) { drawGrid(chart); },
  // soft drop shadow on the simulated-yield markers
  beforeDatasetDraw(chart, args) {
    if (args.meta.type !== 'scatter') return;
    const ctx = chart.ctx;
    ctx.save();
    ctx.shadowColor = 'rgba(0,0,0,0.45)';
    ctx.shadowOffsetX = 1.5;
    ctx.shadowOffsetY = 1.5;
    ctx.shadowBlur = 1;
  },
  afterDatasetDraw(chart, args) {
    if (args.meta.type !== 'scatter') return;
    chart.ctx.restore();
  },
  afterDatasetsDraw(chart) {
    drawNotes(chart);
    drawRatioBoxes(chart);
    drawRecurrence(chart);
    drawYieldTags(chart);
    drawAxes(chart);
    drawLegendRow(chart);
    drawAxisTitle(chart);
  }
};

// ---------- chart ----------
new Chart(document.getElementById('supplyChart'), {
  type: 'scatter',
  data: { datasets },
  options: {
    responsive: false,
    animation: false,
    devicePixelRatio: 1,
    events: [],
    layout: { padding: { left: 0, top: 11, right: 21, bottom: 0 } },
    plugins: { legend: { display: false }, tooltip: { enabled: false } },
    scales: {
      x: {
        type: 'linear', min: 0, max: 100, offset: false,
        afterFit: s => { s.height = 64; },
        grid: { display: false, drawTicks: false },
        border: { display: false },
        ticks: { stepSize: 2, autoSkip: false, maxRotation: 0, padding: 8, color: '#000', font: { size: 15 } }
      },
      y: {
        type: 'linear', min: 0, max: 18, stacked: false,
        afterFit: s => { s.width = 35; },
        grid: { display: false, drawTicks: false },
        border: { display: false },
        ticks: { stepSize: 1, padding: 7, color: '#000', font: { size: 15 } }
      }
    }
  },
  plugins: [overlay]
});
</script>
</body>
</html>
